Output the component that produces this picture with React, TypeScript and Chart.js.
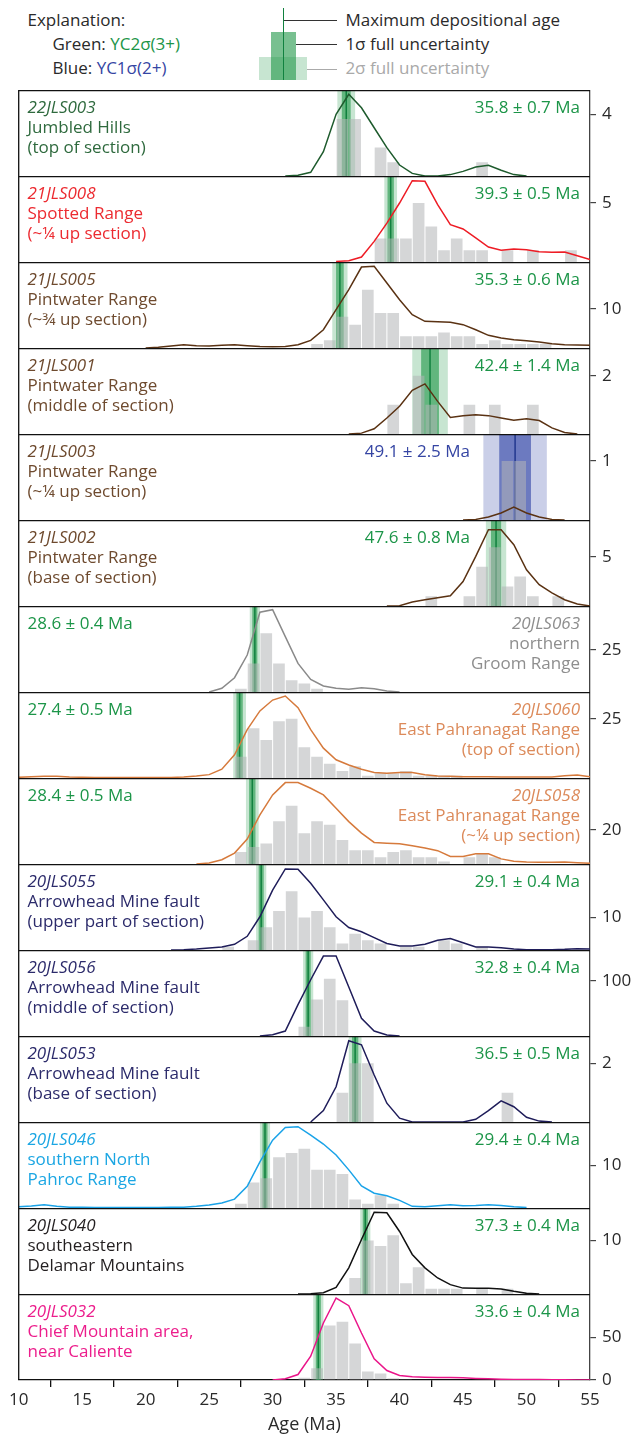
import React, { useEffect, useRef } from 'react';
import { Chart, registerables } from 'chart.js';

Chart.register(...registerables);

const FONT_FAMILY = '"Open Sans", "Noto Sans", "DejaVu Sans", sans-serif';
Chart.defaults.font.family = FONT_FAMILY;

// ---------------- data ----------------
const ageTicks = [10, 15, 20, 25, 30, 35, 40, 45, 50, 55];
const ageAxisTitle = 'Age (Ma)';

const sampleIds = [
  '22JLS003', '21JLS008', '21JLS005', '21JLS001', '21JLS003', '21JLS002', '20JLS063', '20JLS060',
  '20JLS058', '20JLS055', '20JLS056', '20JLS053', '20JLS046', '20JLS040', '20JLS032',
];
const sampleAreas = [
  'Jumbled Hills', 'Spotted Range', 'Pintwater Range', 'Pintwater Range', 'Pintwater Range',
  'Pintwater Range', 'northern', 'East Pahranagat Range', 'East Pahranagat Range',
  'Arrowhead Mine fault', 'Arrowhead Mine fault', 'Arrowhead Mine fault', 'southern North',
  'southeastern', 'Chief Mountain area,',
];
const sampleNotes = [
  '(top of section)', '(~¼ up section)', '(~¾ up section)', '(middle of section)', '(~¼ up section)',
  '(base of section)', 'Groom Range', '(top of section)', '(~¼ up section)', '(upper part of section)',
  '(middle of section)', '(base of section)', 'Pahroc Range', 'Delamar Mountains', 'near Caliente',
];

// maximum depositional age and its 2σ full uncertainty (Ma)
const maxDepositionalAges = [35.8, 39.3, 35.3, 42.4, 49.1, 47.6, 28.6, 27.4, 28.4, 29.1, 32.8, 36.5, 29.4, 37.3, 33.6];
const twoSigmaErrors = [0.7, 0.5, 0.6, 1.4, 2.5, 0.8, 0.4, 0.5, 0.5, 0.4, 0.4, 0.5, 0.4, 0.4, 0.4];
// 'YC2σ(3+)' or 'YC1σ(2+)'
const ageMethods = [
  'YC2σ(3+)', 'YC2σ(3+)', 'YC2σ(3+)', 'YC2σ(3+)', 'YC1σ(2+)', 'YC2σ(3+)', 'YC2σ(3+)', 'YC2σ(3+)',
  'YC2σ(3+)', 'YC2σ(3+)', 'YC2σ(3+)', 'YC2σ(3+)', 'YC2σ(3+)', 'YC2σ(3+)', 'YC2σ(3+)',
];

// count axis of every panel
const countMax = [5.58, 7.29, 22.1, 2.95, 1.46, 8.77, 51.2, 36.3, 50.3, 26.4, 156, 2.93, 20.3, 16.1, 100.7];
const countTicks = [[4], [5], [10], [2], [1], [5], [25], [25], [20], [10], [100], [2], [10], [10], [0, 50]];

// histograms: 1 Ma bins, first bin start (Ma) and counts
const histStarts = [35, 38, 33, 39, 48, 42, 27, 27, 27, 26, 32, 35, 27, 36, 32];
const hist22JLS003 = [3.7, 3.7, 0, 1.85, 0.9, 0, 0, 0, 0, 0, 0, 0.9];
const hist21JLS008 = [2, 2, 2, 5, 3, 1, 2, 1, 1, 0, 1, 0, 1, 0, 0, 1];
const hist21JLS005 = [1, 2, 8, 6, 15, 9, 9, 3, 3, 3, 4, 3, 3, 1, 2, 1, 1, 1, 1];
const hist21JLS001 = [1, 0, 2, 1, 0, 0, 1, 0, 1, 0, 0, 1];
const hist21JLS003 = [1, 1];
const hist21JLS002 = [1, 0, 0, 1, 4, 6, 2, 3, 1, 0, 1];
const hist20JLS063 = [2, 17, 35, 17, 7, 5, 2];
const hist20JLS060 = [9, 21, 16, 24, 25, 13, 9, 6, 3, 5, 1, 2, 2, 3, 1, 1, 1, 1];
const hist20JLS058 = [7, 10, 12, 25, 34, 18, 25, 23, 14, 8, 8, 4, 7, 8, 4, 4, 1.5, 0, 4, 6, 4];
const hist20JLS055 = [1, 0, 3, 7, 12, 18, 10, 12, 7, 2, 5, 3, 2, 0, 1, 1, 0, 3, 2, 0, 1];
const hist20JLS056 = [17, 66, 104, 65];
const hist20JLS053 = [1, 2, 2, 0, 0, 0, 0, 0, 0, 0, 0, 0, 0, 1];
const hist20JLS046 = [1, 6, 7, 12, 13, 14, 9, 9, 8, 2, 1, 3, 1];
const hist20JLS040 = [3, 10, 9, 11, 2, 5, 1, 1, 1, 0, 1, 0, 1];
const hist20JLS032 = [2.6, 13.8, 63.7, 68.3, 42.6, 9.9, 7.6, 2.1, 1];
const histograms = [
  hist22JLS003, hist21JLS008, hist21JLS005, hist21JLS001, hist21JLS003, hist21JLS002, hist20JLS063,
  hist20JLS060, hist20JLS058, hist20JLS055, hist20JLS056, hist20JLS053, hist20JLS046, hist20JLS040, hist20JLS032,
];

// probability density curves, sampled every 1 Ma from the start age
const kdeStarts = [31, 35, 20, 36, 45, 39, 25, 10, 24, 22, 29, 33, 10, 32, 30];
const kde22JLS003 = [0, 0.05, 0.24, 1.58, 4.0, 5.3, 4.43, 3.13, 1.84, 0.71, 0.17, 0, 0, 0.09, 0.3, 0.58, 0.69, 0.37, 0.09, 0];
const kde21JLS008 = [0.05, 0.11, 0.42, 1.75, 3.3, 5.0, 6.89, 6.84, 4.86, 3.16, 2.8, 2.04, 1.27, 0.99, 1.1, 1.04, 0.87, 0.82, 0.85, 0.53, 0.2];
const kde21JLS005 = [
  0, 0.2, 0.5, 0.85, 0.6, 0.5, 0.7, 0.85, 0.6, 0.4, 0.3, 0.4, 0.85, 1.96, 4.7, 9.85, 15.0, 20.8, 21.0, 16.7,
  12.4, 8.56, 6.85, 6.76, 6.6, 6.0, 4.7, 3.25, 2.57, 2.14, 1.88, 1.54, 1.1, 0.85, 0.77, 0.68,
];
const kde21JLS001 = [0, 0.03, 0.18, 0.55, 0.95, 1.5, 1.72, 1.12, 0.57, 0.63, 0.66, 0.63, 0.55, 0.47, 0.52, 0.46, 0.21, 0.05, 0];
const kde21JLS003 = [0, 0.01, 0.05, 0.12, 0.22, 0.12, 0.05, 0.01, 0];
const kde21JLS002 = [0, 0.03, 0.41, 0.64, 0.85, 1.05, 2.5, 5.06, 7.78, 7.78, 6.25, 3.7, 2.17, 1.33, 0.64, 0.2, 0];
const kde20JLS063 = [0, 2.2, 8.5, 22, 47.5, 49.0, 33, 17, 7.5, 3.6, 2.2, 1.6, 2.6, 2.0, 0.6, 0];
const kde20JLS060 = [
  0.28, 0.57, 0.7, 0.7, 0.43, 0.28, 0.2, 0.2, 0.2, 0.2, 0.2, 0.2, 0.2, 0.43, 0.85, 1.42, 3.7, 9.8, 20.4, 28.3,
  32.9, 34.6, 29.7, 20.4, 12.6, 7.7, 5.5, 3.7, 2.3, 2.0, 2.3, 2.3, 1.4, 0.85, 0.7, 0.57, 0.57, 0.57, 0.43, 0.43,
  0.43, 0.43, 0.43, 1.0, 1.3, 0.57,
];
const kde20JLS058 = [
  0, 0.6, 2.5, 6.4, 14.6, 28.7, 40.4, 47.6, 47.6, 44.3, 40.4, 32.6, 24.8, 18.1, 12.6, 12.2, 11.9, 10.7, 9.3, 7.8,
  4.4, 4.4, 6.0, 6.0, 3.0, 1.6, 1.2, 1.0, 1.0, 1.2, 0.8, 0.4,
];
const kde20JLS055 = [
  0, 0.1, 0.3, 0.62, 0.93, 1.75, 4.2, 10.2, 18.4, 24.9, 24.8, 20.5, 15.4, 10.2, 6.9, 5.6, 3.8, 2.0, 1.2, 1.2,
  1.75, 3.0, 3.5, 2.2, 0.93, 0.93, 0.7, 0.3, 0.1, 0.1, 0.1, 0.2, 0.4, 0.3,
];
const kde20JLS056 = [0, 2.4, 9, 57, 102, 145, 145, 89, 32, 9, 1.8, 0];
const kde20JLS053 = [0, 0.39, 1.2, 2.77, 2.63, 1.6, 0.64, 0.13, 0, 0, 0, 0, 0, 0.09, 0.39, 0.72, 0.52, 0.16, 0.03, 0];
const kde20JLS046 = [
  0.3, 0.5, 0.77, 0.4, 0.2, 0.15, 0.1, 0.1, 0.1, 0.1, 0.1, 0.1, 0.15, 0.2, 0.4, 0.7, 1.2, 2.1, 5.1, 10.9, 16.0,
  19.0, 19.2, 17.2, 15.1, 12.5, 9.0, 5.2, 3.5, 2.9, 1.8, 0.4, 0.3, 0.54, 0.77, 0.54, 0.6, 0.77, 0.6, 0.3, 0.1,
];
const kde20JLS040 = [0, 0.06, 0.25, 1.25, 4.9, 10.2, 15.3, 15.2, 11.7, 7.4, 4.9, 3.0, 1.75, 1.1, 1.06, 1.06, 0.94, 0.5, 0.12, 0];
const kde20JLS032 = [
  0, 1.4, 6.4, 27.8, 66.8, 96, 87, 55, 24.8, 11.1, 5.3, 3.7, 3.3, 2.9, 2.9, 2.5, 1.8, 1.4, 1.0, 0.6, 0.6, 0.5,
  0.4, 0.3, 0.1, 0.1,
];
const densities = [
  kde22JLS003, kde21JLS008, kde21JLS005, kde21JLS001, kde21JLS003, kde21JLS002, kde20JLS063, kde20JLS060,
  kde20JLS058, kde20JLS055, kde20JLS056, kde20JLS053, kde20JLS046, kde20JLS040, kde20JLS032,
];

// ---------------- styles ----------------
const labelColors = [
  '#2f6a3e', '#ec2a30', '#6e4a2e', '#6e4a2e', '#6e4a2e', '#6e4a2e', '#8e8e8e', '#dc8a5a',
  '#dc8a5a', '#2c2b6b', '#2c2b6b', '#2c2b6b', '#1ba6e3', '#231f20', '#ec1e8c',
];
const curveColors = [
  '#1e5b2d', '#ee1c25', '#5a3213', '#5a3213', '#5a3213', '#5a3213', '#8a8a8a', '#d67a3c',
  '#d67a3c', '#1f1d5a', '#1f1d5a', '#1f1d5a', '#1aa3e8', '#111111', '#ea168a',
];
// 'left': sample text at left, age at right; 'right': the reverse; 'band': age just left of the band
const labelSides = [
  'left', 'left', 'left', 'left', 'band', 'band', 'right', 'right', 'right', 'left', 'left', 'left', 'left', 'left', 'left',
];

const GREEN = { wide: 'rgba(30,150,70,0.25)', narrow: 'rgba(30,150,70,0.6)', line: '#11813f', text: '#1c9548' };
const BLUE = { wide: 'rgba(45,65,165,0.25)', narrow: 'rgba(45,65,165,0.6)', line: '#23378f', text: '#3545a3' };
const BAR_COLOR = 'rgba(178,180,183,0.55)';
const INK = '#2a2a2a';

const PAGE_W = 633;
const PAGE_H = 1437;
const PLOT_LEFT = 18.7;
const PLOT_RIGHT = 590;
const FIRST_PANEL_TOP = 90;
const PANEL_H = 86;
const X_AXIS_H = 57;
const LABEL_LEFT = 27.5;
const LABEL_RIGHT = 580;
const BAND_LABEL_RIGHT = 470;
const LINE_BASELINES = [24, 44, 63.5];
const TEXT_SIZE = 17;
const BASELINE_OFFSET = 16.6;

const paletteFor = (i: number) => (ageMethods[i] === 'YC1σ(2+)' ? BLUE : GREEN);

function TextLine(props: {
  x: number; baseline: number; align?: 'left' | 'right'; color?: string; italic?: boolean;
  children: React.ReactNode;
}) {
  const { x, baseline, align = 'left', color = INK, italic = false, children } = props;
  const style: React.CSSProperties = {
    position: 'absolute',
    top: baseline - BASELINE_OFFSET,
    whiteSpace: 'nowrap',
    lineHeight: '20px',
    fontSize: TEXT_SIZE,
    fontFamily: FONT_FAMILY,
    fontWeight: 400,
    fontStyle: italic ? 'italic' : 'normal',
    color,
  };
  if (align === 'left') style.left = x;
  else style.right = PAGE_W - x;
  return <div style={style}>{children}</div>;
}

function Panel({ index }: { index: number }) {
  const canvasRef = useRef<HTMLCanvasElement>(null);
  const isLast = index === sampleIds.length - 1;
  const top = FIRST_PANEL_TOP + index * PANEL_H;
  const height = PANEL_H + (isLast ? X_AXIS_H : 0);

  useEffect(() => {
    const canvas = canvasRef.current;
    if (!canvas) return;
    const palette = paletteFor(index);
    const age = maxDepositionalAges[index];
    const err2 = twoSigmaErrors[index];

    const histPoints = histograms[index].map((c, k) => ({ x: histStarts[index] + k + 0.5, y: c }));
    const kdePoints = densities[index].map((v, k) => ({ x: kdeStarts[index] + k, y: v }));

    const bandsPlugin = {
      id: 'uncertaintyBands',
      beforeDatasetsDraw(chart: any) {
        const { ctx, chartArea: a } = chart;
        const xs = chart.scales.x;
        ctx.save();
        ctx.beginPath();
        ctx.rect(a.left, a.top, a.right - a.left, a.bottom - a.top);
        ctx.clip();
        const band = (lo: number, hi: number, color: string) => {
          const x0 = xs.getPixelForValue(lo);
          const x1 = xs.getPixelForValue(hi);
          ctx.fillStyle = color;
          ctx.fillRect(x0, a.top, x1 - x0, a.bottom - a.top);
        };
        band(age - err2, age + err2, palette.wide);
        band(age - err2 / 2, age + err2 / 2, palette.narrow);
        const xa = xs.getPixelForValue(age);
        ctx.strokeStyle = palette.line;
        ctx.lineWidth = 1.5;
        ctx.beginPath();
        ctx.moveTo(xa, a.top);
        ctx.lineTo(xa, a.bottom);
        ctx.stroke();
        ctx.restore();
      },
    };

    const framePlugin = {
      id: 'panelFrame',
      afterDatasetsDraw(chart: any) {
        const { ctx, chartArea: a } = chart;
        ctx.save();
        ctx.strokeStyle = '#111';
        ctx.lineWidth = 1.3;
        ctx.beginPath();
        ctx.moveTo(a.left, a.top + 0.65);
        ctx.lineTo(a.right, a.top + 0.65);
        ctx.moveTo(a.left, a.top);
        ctx.lineTo(a.left, a.bottom);
        ctx.stroke();
        ctx.restore();
      },
    };

    const tickFont = { size: TEXT_SIZE, family: FONT_FAMILY, weight: 'normal' as any };

    const chart = new Chart(canvas, {
      type: 'line',
      data: {
        datasets: [
          {
            type: 'line',
            data: kdePoints,
            borderColor: curveColors[index],
            borderWidth: 1.5,
            pointRadius: 0,
            tension: 0,
            fill: false,
            order: 0,
          } as any,
          {
            type: 'bar',
            data: histPoints,
            backgroundColor: BAR_COLOR,
            borderWidth: 0,
            barPercentage: 0.92,
            categoryPercentage: 1,
            grouped: false,
            order: 1,
          } as any,
        ],
      },
      options: {
        animation: false,
        responsive: false,
        devicePixelRatio: 1,
        events: [],
        layout: { padding: { left: PLOT_LEFT, right: 0, top: 0, bottom: 0 } },
        plugins: { legend: { display: false }, tooltip: { enabled: false } },
        scales: {
          x: {
            type: 'linear',
            position: 'bottom',
            min: ageTicks[0],
            max: ageTicks[ageTicks.length - 1],
            offset: false,
            display: isLast,
            z: 1,
            afterBuildTicks: (s: any) => {
              s.ticks = ageTicks.map((v) => ({ value: v }));
            },
            ticks: { color: INK, font: tickFont, padding: 3, maxRotation: 0, autoSkip: false },
            grid: { drawOnChartArea: false, drawTicks: true, tickLength: 7, color: '#111', lineWidth: 1.3 },
            border: { display: true, color: '#111', width: 1.3 },
            title: {
              display: true,
              text: ageAxisTitle,
              color: INK,
              font: { size: 18, family: FONT_FAMILY, weight: 'normal' },
              padding: { top: 0, bottom: 1 },
            },
            afterFit: (s: any) => {
              if (isLast) s.height = X_AXIS_H;
              s.paddingLeft = 0;
              s.paddingRight = 0;
            },
          },
          y: {
            type: 'linear',
            position: 'right',
            min: 0,
            max: countMax[index],
            z: 1,
            afterBuildTicks: (s: any) => {
              s.ticks = countTicks[index].map((v) => ({ value: v }));
            },
            ticks: { color: INK, font: tickFont, padding: 6 },
            grid: { drawOnChartArea: false, drawTicks: true, tickLength: 6, color: '#444', lineWidth: 1.2 },
            border: { display: true, color: '#444', width: 1.3 },
            afterFit: (s: any) => {
              s.width = PAGE_W - PLOT_RIGHT;
              s.paddingTop = 0;
              s.paddingBottom = 0;
            },
          },
        },
      } as any,
      plugins: [bandsPlugin, framePlugin],
    });
    return () => chart.destroy();
  }, [index]);

  const side = labelSides[index];
  const palette = paletteFor(index);
  const ageText = `${maxDepositionalAges[index].toFixed(1)} ± ${twoSigmaErrors[index].toFixed(1)} Ma`;
  const lines = [sampleIds[index], sampleAreas[index], sampleNotes[index]];
  const textX = side === 'right' ? LABEL_RIGHT : LABEL_LEFT;
  const textAlign = side === 'right' ? 'right' : 'left';
  const ageX = side === 'right' ? LABEL_LEFT : side === 'band' ? BAND_LABEL_RIGHT : LABEL_RIGHT;
  const ageAlign = side === 'right' ? 'left' : 'right';

  return (
    <>
      <canvas
        ref={canvasRef}
        width={PAGE_W}
        height={height}
        style={{ position: 'absolute', left: 0, top, width: PAGE_W, height, display: 'block' }}
      />
      {lines.map((t, k) => (
        <TextLine
          key={k}
          x={textX}
          align={textAlign as any}
          baseline={top + LINE_BASELINES[k]}
          color={labelColors[index]}
          italic={k === 0}
        >
          {t}
        </TextLine>
      ))}
      <TextLine x={ageX} align={ageAlign as any} baseline={top + LINE_BASELINES[0]} color={palette.text}>
        {ageText}
      </TextLine>
    </>
  );
}

function Explanation() {
  const lineX = 283.6;
  const box = (left: number, top: number, w: number, h: number, bg: string) => (
    <div style={{ position: 'absolute', left, top, width: w, height: h, background: bg }} />
  );
  const rule = (left: number, top: number, w: number, color: string) => (
    <div style={{ position: 'absolute', left, top, width: w, height: 1.2, background: color }} />
  );
  return (
    <>
      <TextLine x={LABEL_LEFT} baseline={26.7}>Explanation:</TextLine>
      <TextLine x={52.5} baseline={50.5}>
        Green: <span style={{ color: GREEN.text }}>YC2σ(3+)</span>
      </TextLine>
      <TextLine x={52.5} baseline={74.5}>
        Blue: <span style={{ color: BLUE.text }}>YC1σ(2+)</span>
      </TextLine>
      {box(259.3, 56.7, 47.7, 23.3, GREEN.wide)}
      {box(270.7, 32.3, 25, 47.7, GREEN.narrow)}
      <div style={{ position: 'absolute', left: lineX - 0.7, top: 8, width: 1.4, height: 72, background: GREEN.line }} />
      {rule(lineX, 19.5, 337 - lineX, '#333')}
      {rule(295.7, 43.8, 337 - 295.7, '#333')}
      {rule(307, 68.8, 337 - 307, '#aaa')}
      <TextLine x={345.4} baseline={26.7}>Maximum depositional age</TextLine>
      <TextLine x={345.4} baseline={50.5}>1σ full uncertainty</TextLine>
      <TextLine x={345.4} baseline={74.5} color="#a9a9a9">2σ full uncertainty</TextLine>
    </>
  );
}

export default function App() {
  return (
    <div
      style={{
        position: 'absolute',
        left: 0,
        top: 0,
        width: PAGE_W,
        height: PAGE_H,
        background: '#fff',
        overflow: 'hidden',
      }}
    >
      <Explanation />
      {sampleIds.map((id, i) => (
        <Panel key={id} index={i} />
      ))}
    </div>
  );
}
